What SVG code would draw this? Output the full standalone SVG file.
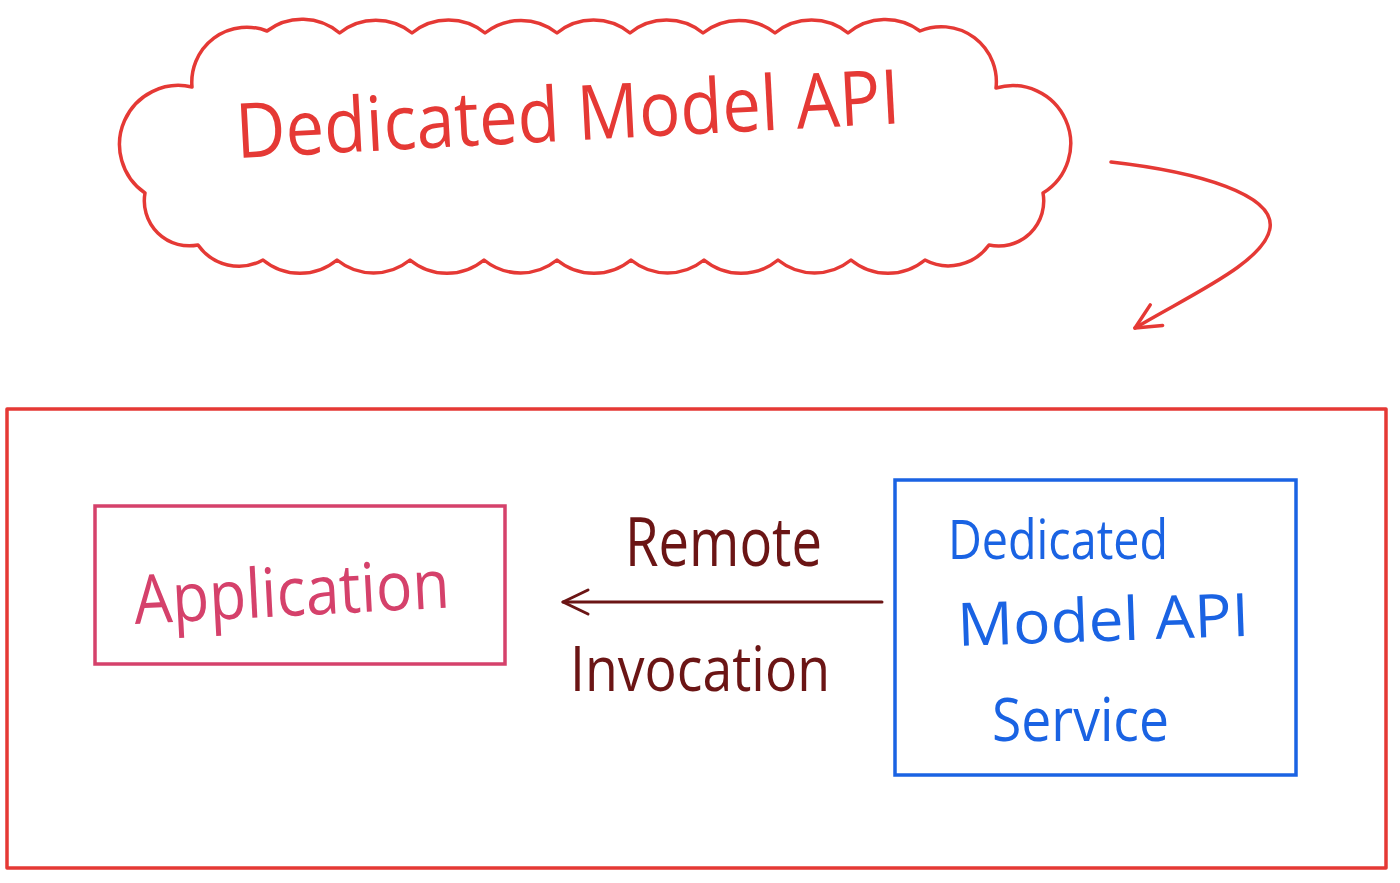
<svg xmlns="http://www.w3.org/2000/svg" width="1400" height="883" viewBox="0 0 1400 883">
<style>
.bg{fill:#ffffff}
.red{stroke:#e53935;fill:none;stroke-width:3.5;stroke-linejoin:round;stroke-linecap:round}
.redt{fill:#e53935}
.pink{stroke:#d5416b;fill:none;stroke-width:3.5}
.pinkt{fill:#d5416b}
.blue{stroke:#1a63e3;fill:none;stroke-width:3.5}
.bluet{fill:#1a63e3}
.maroon{stroke:#6b1515;fill:none;stroke-width:3;stroke-linecap:round}
.maroont{fill:#6b1515}
.hand{font-family:"Open Sans","Liberation Sans",sans-serif;font-weight:400}
</style>
<defs>
<marker id="headRed" viewBox="-30 -16 34 32" refX="0" refY="0" markerWidth="34" markerHeight="32" markerUnits="userSpaceOnUse" orient="auto">
<path d="M-25,-12 L0,0 L-25,12" fill="none" stroke="#e53935" stroke-width="3.5" stroke-linecap="round" stroke-linejoin="round"/>
</marker>
<marker id="headMaroon" viewBox="-30 -16 34 32" refX="0" refY="0" markerWidth="34" markerHeight="32" markerUnits="userSpaceOnUse" orient="auto">
<path d="M-25,-12 L0,0 L-25,12" fill="none" stroke="#6b1515" stroke-width="3" stroke-linecap="round" stroke-linejoin="round"/>
</marker>
</defs>
<rect class="bg" x="0" y="0" width="1400" height="883"/>

<g id="cloud-node">
<path class="red" d="M192,87 A55,55 0 0 1 267,31
A58,58 0 0 1 339.6,33 A58,58 0 0 1 412,33 A58,58 0 0 1 485,33 A58,58 0 0 1 557,33 A58,58 0 0 1 630,33 A58,58 0 0 1 703,33 A58,58 0 0 1 775,33 A58,58 0 0 1 848,33 A58,58 0 0 1 920,31
A55,55 0 0 1 996,88
A58,58 0 0 1 1043,193
A45,45 0 0 1 989,245
A50,50 0 0 1 925,260
A58,58 0 0 1 851,260 A58,58 0 0 1 778,260 A58,58 0 0 1 704,260 A58,58 0 0 1 631,260 A58,58 0 0 1 557,260 A58,58 0 0 1 484,260 A58,58 0 0 1 410,260 A58,58 0 0 1 337,260 A58,58 0 0 1 263,260
A50,50 0 0 1 198,245
A45,45 0 0 1 145,193
A59,59 0 0 1 192,87 Z"/>
<text class="hand redt" x="237" y="158" font-size="76" textLength="665" lengthAdjust="spacingAndGlyphs" transform="rotate(-3 237 158)">Dedicated Model API</text>
</g>

<g id="container">
<rect class="red" x="7" y="409" width="1379" height="459"/>
</g>

<g id="application-node">
<rect class="pink" x="95" y="506" width="410" height="158"/>
<text class="hand pinkt" x="135" y="624" font-size="68" textLength="316" lengthAdjust="spacingAndGlyphs" transform="rotate(-3 135 624)">Application</text>
</g>

<g id="service-node">
<rect class="blue" x="895" y="480" width="401" height="295"/>
<text class="hand bluet" x="948" y="559" font-size="54" textLength="220" lengthAdjust="spacingAndGlyphs">Dedicated</text>
<text class="hand bluet" x="958" y="646" font-size="60" textLength="292" lengthAdjust="spacingAndGlyphs" transform="rotate(-2 958 646)">Model API</text>
<text class="hand bluet" x="992" y="741" font-size="60" textLength="177" lengthAdjust="spacingAndGlyphs">Service</text>
</g>

<g id="connectors">
<path class="red" d="M1111,162 C1200,172 1275,195 1270,228 C1265,262 1190,295 1135,328" marker-end="url(#headRed)"/>
<path class="maroon" d="M882,602 L563,602" marker-end="url(#headMaroon)"/>
<text class="hand maroont" x="625" y="566" font-size="68" textLength="197" lengthAdjust="spacingAndGlyphs">Remote</text>
<text class="hand maroont" x="570" y="691" font-size="62" textLength="260" lengthAdjust="spacingAndGlyphs">Invocation</text>
</g>
</svg>
